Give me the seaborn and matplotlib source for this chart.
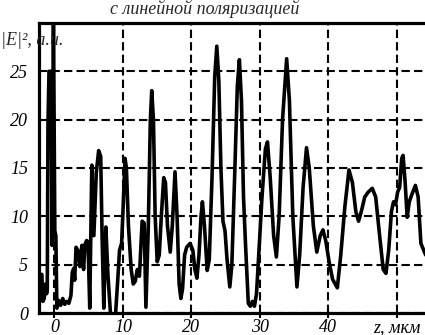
import matplotlib
matplotlib.use("Agg")
import matplotlib.pyplot as plt
import seaborn as sns
import pandas as pd

# ---- data ----
z_um = [-2.25, -2.05, -1.85, -1.7, -1.5, -1.3, -1.15, -1.05, -0.95, -0.8, -0.5, -0.35, -0.15,
        0.05, 0.2, 0.35, 0.6, 0.9, 1.2, 1.5, 1.8, 2.1, 2.4, 2.6, 2.8, 2.95, 3.15, 3.4, 3.7,
        4.0, 4.25, 4.45, 4.7, 4.9, 5.15, 5.45, 5.75, 6.1, 6.45, 6.75, 6.95, 7.2, 7.5, 7.8,
        8.2, 8.5, 8.9, 9.2, 9.5, 9.8, 10.0, 10.3, 10.5, 10.8, 11.2, 11.5, 11.8, 12.1, 12.4,
        12.8, 13.1, 13.35, 13.7, 14.0, 14.2, 14.45, 14.7, 15.0, 15.3, 15.6, 15.95, 16.2,
        16.5, 16.9, 17.2, 17.6, 17.9, 18.2, 18.45, 18.7, 19.0, 19.3, 19.8, 20.2, 20.5,
        20.8, 21.1, 21.4, 21.6, 21.9, 22.3, 22.6, 23.0, 23.4, 23.7, 24.0, 24.3, 24.6, 24.9,
        25.2, 25.6, 25.9, 26.3, 26.7, 27.0, 27.3, 27.6, 27.9, 28.3, 28.6, 28.9, 29.2, 29.5,
        29.9, 30.3, 30.8, 31.1, 31.5, 32.0, 32.4, 32.8, 33.3, 33.9, 34.3, 34.8, 35.4, 35.8,
        36.3, 36.8, 37.2, 37.8, 38.3, 38.8, 39.2, 39.6, 40.1, 40.6, 41.3, 41.8, 42.4, 43.0,
        43.5, 44.0, 44.4, 44.8, 45.3, 45.8, 46.4, 46.9, 47.4, 48.0, 48.4, 48.8, 49.2, 49.5,
        49.8, 50.1, 50.4, 50.7, 50.9, 51.2, 51.5, 51.8, 52.2, 52.7, 53.1, 53.5, 54.2]
E2_au = [1.2, 3.8, 4.0, 1.2, 1.5, 3.0, 2.0, 2.5, 19.5, 25.0, 25.0, 7.0, 31.0,
         8.5, 8.0, 0.5, 1.3, 0.8, 1.5, 0.9, 1.2, 1.0, 1.8, 4.2, 4.6, 3.4, 6.8, 6.5, 4.8,
         7.0, 4.5, 7.1, 7.5, 7.3, 0.5, 15.3, 8.0, 14.5, 16.8, 16.2, 8.0, 0.5, 8.9, 4.0,
         -0.3, -0.3, -0.3, 3.0, 6.5, 7.2, 10.5, 16.0, 15.0, 9.0, 4.5, 3.0, 3.3, 4.5, 3.8,
         9.5, 9.3, 0.6, 9.0, 20.0, 23.0, 20.0, 10.0, 5.3, 6.0, 10.0, 14.0, 13.5,
         9.0, 6.3, 9.0, 14.6, 10.0, 3.0, 1.5, 2.5, 6.0, 6.8, 7.2, 6.5, 4.5,
         3.6, 6.0, 10.0, 11.5, 9.0, 4.4, 5.5, 14.0, 24.5, 27.6, 24.0, 15.0, 9.5, 8.5,
         5.5, 2.7, 5.0, 14.0, 23.5, 26.2, 22.0, 12.0, 7.0, 1.0, 0.7, 1.2, 0.7, 2.0,
         7.0, 12.0, 17.0, 17.7, 14.0, 8.0, 5.8, 10.0, 20.0, 26.3, 22.0, 10.0, 2.7, 6.0,
         13.0, 17.1, 15.0, 9.0, 6.3, 8.0, 8.6, 7.5, 5.3, 3.5, 2.6, 6.0, 11.0, 14.8,
         13.5, 10.5, 9.5, 10.5, 12.0, 12.5, 12.9, 12.0, 8.5, 4.5, 4.1, 6.5, 10.5, 11.5,
         11.2, 12.5, 13.0, 16.0, 16.3, 13.5, 9.9, 11.5, 12.3, 13.2, 12.0, 7.2, 6.0]

x_ticks = [0, 10, 20, 30, 40, 50]
x_tick_labels = ["0", "10", "20", "30", "40", "z, мкм"]
y_ticks = [0, 5, 10, 15, 20, 25]
y_tick_labels = ["0", "5", "10", "15", "20", "25"]
title_text = "с линейной поляризацией"
ylabel_text = "|E|², a.u."

df = pd.DataFrame({"z": z_um, "E2": E2_au})

sns.set_style("white")
plt.rcParams["font.family"] = ["Liberation Serif", "DejaVu Serif"]
plt.rcParams["font.style"] = "italic"

fig = plt.figure(figsize=(4.25, 3.35), dpi=100)
ax = fig.add_axes([39 / 425, 1 - 313 / 335, (425 - 39) / 425, (313 - 23) / 335])

sns.lineplot(data=df, x="z", y="E2", ax=ax, color="black", linewidth=2.6,
             sort=False, estimator=None, zorder=3)

ax.set_xlim(-2.26, 54.1)
ax.set_ylim(0, 30)
ax.set_xticks(x_ticks)
ax.set_xticklabels(x_tick_labels, fontsize=13, style="italic")
ax.set_yticks(y_ticks)
ax.set_yticklabels(y_tick_labels, fontsize=13, style="italic")
ax.set_xlabel("")
ax.set_ylabel("")

ax.grid(True, color="black", linestyle=(0, (4, 2)), linewidth=1.5)
ax.set_axisbelow(True)

for side in ["left", "bottom", "top"]:
    ax.spines[side].set_visible(True)
    ax.spines[side].set_color("black")
    ax.spines[side].set_linewidth(2.3)
    ax.spines[side].set_zorder(4)
ax.spines["right"].set_visible(False)

ax.tick_params(axis="x", direction="out", length=3.5, width=1.5, pad=1.0, colors="black")
ax.tick_params(axis="y", length=0, pad=8, colors="black")
ax.xaxis.set_ticks_position("bottom")

fig.text(0.482, 0.999, title_text, ha="center", va="top", fontsize=13, style="italic")
fig.text(0.003, 1 - 45 / 335, ylabel_text, ha="left", va="baseline", fontsize=13, style="italic")

fig.savefig("out.png", dpi=100)
